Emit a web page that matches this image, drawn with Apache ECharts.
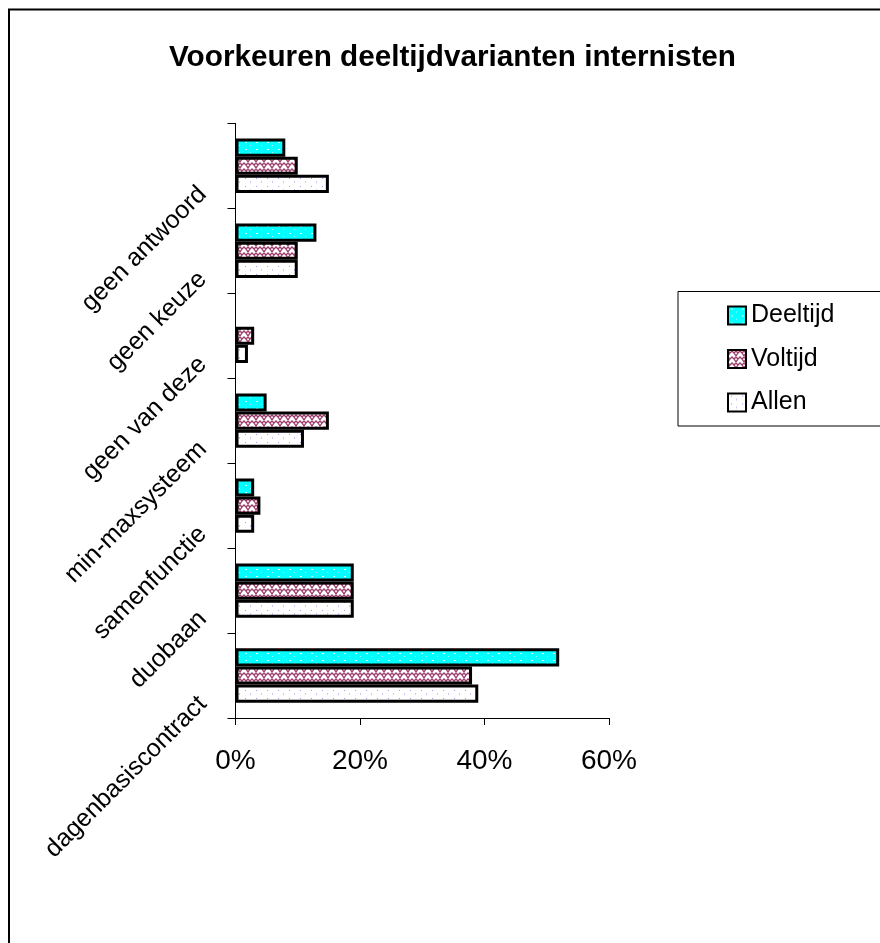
<!DOCTYPE html>
<html>
<head>
<meta charset="utf-8">
<script src="https://cdn.jsdelivr.net/npm/echarts@6/dist/echarts.min.js"></script>
<style>
html,body{margin:0;padding:0;background:#fff;}
#chart{width:880px;height:943px;}
</style>
</head>
<body>
<div id="chart"></div>
<script>
// Data (categories listed bottom to top)
var categories = ['dagenbasiscontract', 'duobaan', 'samenfunctie', 'min-maxsysteem', 'geen van deze', 'geen keuze', 'geen antwoord'];
var seriesNames = ['Deeltijd', 'Voltijd', 'Allen'];
var deeltijd = [52, 19, 3, 5, 0, 13, 8];
var voltijd = [38, 19, 4, 15, 3, 10, 10];
var allen = [39, 19, 3, 11, 2, 10, 15];
var xTicks = [0, 20, 40, 60];

function makePattern(w, h, bg, draw) {
  var c = document.createElement('canvas');
  c.width = w; c.height = h;
  var ctx = c.getContext('2d');
  ctx.fillStyle = bg; ctx.fillRect(0, 0, w, h);
  draw(ctx);
  return { image: c, repeat: 'repeat' };
}
var patDeel = makePattern(11, 7, '#00ffff', function (ctx) {
  ctx.fillStyle = '#e8ffff';
  ctx.fillRect(3, 2, 2, 1);
  ctx.fillStyle = '#b0f0ff';
  ctx.fillRect(8, 5, 1, 1);
});
var patVol = makePattern(8, 6, '#ffffff', function (ctx) {
  ctx.strokeStyle = '#9c3d6c';
  ctx.lineWidth = 1.3;
  ctx.beginPath();
  ctx.moveTo(-1, 0); ctx.lineTo(2, 3); ctx.lineTo(4, 1); ctx.lineTo(6, 3); ctx.lineTo(9, 0);
  ctx.moveTo(0, 6); ctx.lineTo(2, 3);
  ctx.moveTo(6, 3); ctx.lineTo(8, 6);
  ctx.stroke();
});
var patAll = makePattern(11, 8, '#ffffff', function (ctx) {
  ctx.fillStyle = '#9a9aff';
  ctx.fillRect(3, 2, 1, 1);
  ctx.fillStyle = '#c8c8ff';
  ctx.fillRect(8, 5, 1, 2);
});

function toData(arr) {
  return arr.map(function (v) {
    return v === 0 ? { value: v, itemStyle: { borderWidth: 0 } } : v;
  });
}

var FONT = "'Liberation Sans', Arial, sans-serif";
var chart = echarts.init(document.getElementById('chart'), null, { renderer: 'canvas' });

var barStyle = function (pat) {
  return { color: pat, borderColor: '#000000', borderWidth: 3 };
};

chart.setOption({
  animation: false,
  backgroundColor: '#ffffff',
  title: {
    text: 'Voorkeuren deeltijdvarianten internisten',
    left: 452.5,
    textAlign: 'center',
    top: 43,
    padding: 0,
    textStyle: { fontFamily: FONT, fontWeight: 'bold', fontSize: 29.7, lineHeight: 30, color: '#000' }
  },
  legend: {
    data: seriesNames,
    orient: 'vertical',
    left: 678,
    top: 291.5,
    padding: [11.5, 80, 11, 49],
    itemGap: 18.5,
    itemWidth: 18,
    itemHeight: 18,
    icon: 'rect',
    borderColor: '#000000',
    borderWidth: 1,
    textStyle: { fontFamily: FONT, fontSize: 25, lineHeight: 25, color: '#000' }
  },
  graphic: [{
    type: 'rect',
    shape: { x: 9, y: 9.5, width: 1000, height: 1000 },
    style: { fill: null, stroke: '#000', lineWidth: 2 },
    silent: true,
    z: 100
  }],
  grid: { left: 235.5, right: 271, top: 123.3, bottom: 225 },
  xAxis: {
    type: 'value',
    min: xTicks[0],
    max: xTicks[xTicks.length - 1],
    interval: 20,
    splitLine: { show: false },
    axisLine: { show: true, lineStyle: { color: '#000', width: 1 } },
    axisTick: { show: true, length: 7, lineStyle: { color: '#000' } },
    axisLabel: {
      formatter: '{value}%',
      fontFamily: FONT, fontSize: 28, lineHeight: 28, color: '#000', margin: 29
    }
  },
  yAxis: {
    type: 'category',
    data: categories,
    axisLine: { show: true, lineStyle: { color: '#000', width: 1 } },
    axisTick: { show: true, length: 8, lineStyle: { color: '#000' } },
    axisLabel: {
      interval: 0,
      rotate: 45,
      align: 'right',
      verticalAlign: 'middle',
      margin: 8,
      padding: [16, 35, 0, 0],
      fontFamily: FONT, fontSize: 25, lineHeight: 25, color: '#000'
    }
  },
  series: [
    { name: 'Deeltijd', type: 'bar', data: toData(deeltijd), barGap: '0%', barCategoryGap: '36%', itemStyle: barStyle(patDeel) },
    { name: 'Voltijd', type: 'bar', data: toData(voltijd), barGap: '0%', barCategoryGap: '36%', itemStyle: barStyle(patVol) },
    { name: 'Allen', type: 'bar', data: toData(allen), barGap: '0%', barCategoryGap: '36%', itemStyle: barStyle(patAll) }
  ]
});
</script>
</body>
</html>
